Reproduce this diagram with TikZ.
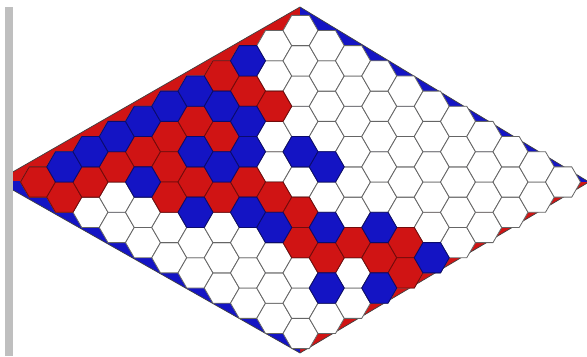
\documentclass[tikz,border=0pt]{standalone}
\usepackage{xcolor}
\usepackage{tikz}
\definecolor{ink}{HTML}{4A4A4A}
\definecolor{hRed}{HTML}{D01414}
\definecolor{hBlue}{HTML}{1414C4}
\colorlet{rim}{black!75}
\newcommand{\hexpath}{(17.5,0) -- (8.75,-15.15) -- (-8.75,-15.15) -- (-17.5,0)
  -- (-8.75,15.15) -- (8.75,15.15) -- cycle}
\tikzset{
  cell/.style={draw=ink!85, line width=0.7pt, fill=white, line join=round},
}

\begin{document}
\begin{tikzpicture}[x=0.03cm, y=-0.03cm,
  redc/.style={cell, fill=hRed, draw=hRed!55!black},
  bluec/.style={cell, fill=hBlue, draw=hBlue!55!black}]
\useasboundingbox (0,0) rectangle (587,356);
\begin{scope}
\clip (13,0) rectangle (587,356);
% board corners
\coordinate (L) at (-3,181); \coordinate (T) at (300,7);
\coordinate (R) at (589,182); \coordinate (B) at (300,353);
\coordinate (M) at (300,182);
\fill[hRed] (M) -- (L) -- (T) -- cycle;
\fill[hBlue] (M) -- (T) -- (R) -- cycle;
\fill[hRed] (M) -- (R) -- (B) -- cycle;
\fill[hBlue] (M) -- (B) -- (L) -- cycle;
\draw[rim, line width=0.6pt] (L) -- (T) -- (R) -- (B) -- cycle;
% empty cells
\foreach \i in {0,...,10}
  \foreach \j in {0,...,10} {
    \coordinate (c\i-\j) at ({38+26.25*(\i+\j)}, {182+15.15*(\j-\i)});
    \draw[cell, shift={(c\i-\j)}] \hexpath;
  }
% stones
\foreach \i/\j in {0/0,7/0,0/1,1/1,2/1,3/1,4/1,5/1,7/1,3/2,5/2,7/2,2/3,3/3,3/4,4/4,
  4/5,4/6,3/7,3/8,4/8,4/9,5/9,4/10}
  \draw[redc, shift={(c\i-\j)}] \hexpath;
\foreach \i/\j in {1/0,2/0,3/0,4/0,5/0,6/0,8/0,6/1,2/2,4/2,6/2,4/3,5/3,2/4,6/4,
  3/5,6/5,3/6,4/7,5/8,2/9,3/10,5/10}
  \draw[bluec, shift={(c\i-\j)}] \hexpath;
\end{scope}
\fill[black!25] (5,7) rectangle (13,356);
\end{tikzpicture}
\end{document}
